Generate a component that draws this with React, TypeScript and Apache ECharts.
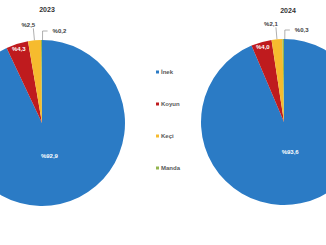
import React, { useEffect, useRef } from "react";
import * as echarts from "echarts";

const categories = ["İnek", "Koyun", "Keçi", "Manda"];
const values2023 = [92.9, 4.3, 2.5, 0.2];
const values2024 = [93.6, 4.0, 2.1, 0.3];
const years = ["2023", "2024"];
const colors = ["#2B7BC5", "#BF1B1E", "#F6BB2E", "#93B54F"];

const FONT = "Liberation Sans, Arial, sans-serif";
const fmt = (v: number) => "%" + v.toFixed(1).replace(".", ",");

function yearSeries(values: number[], center: [number, number], innerR: number): any[] {
  const R = 83;
  const base = {
    type: "pie",
    center,
    startAngle: 90,
    clockwise: true,
    avoidLabelOverlap: false,
    animation: false,
  };
  const labelOnly = (idx: number) =>
    values.map((v, i) => ({
      name: categories[i],
      value: v,
      itemStyle: { color: "rgba(0,0,0,0)" },
      label: { show: i === idx },
    }));
  const outsideLabel = {
    position: "outside",
    formatter: (p: any) => fmt(p.value),
    fontSize: 6,
    fontWeight: "bold",
    color: "#404040",
    fontFamily: FONT,
  };
  const insideLabel = {
    position: "inside",
    formatter: (p: any) => fmt(p.value),
    fontSize: 6,
    fontWeight: "bold",
    color: "#ffffff",
    fontFamily: FONT,
  };
  return [
    {
      ...base,
      radius: [0, R],
      itemStyle: { borderWidth: 0 },
      data: values.map((v, i) => ({
        name: categories[i],
        value: v,
        itemStyle: { color: colors[i] },
        label: { show: i === 2 },
        labelLine: { show: i === 2 },
      })),
      label: outsideLabel,
      labelLine: { length: 12, length2: 0, lineStyle: { color: "#8c8c8c", width: 0.7 } },
      labelLayout: { align: "center", verticalAlign: "bottom" },
    },
    {
      ...base,
      radius: [0, innerR],
      silent: true,
      data: labelOnly(0),
      label: insideLabel,
      labelLine: { show: false },
    },
    {
      ...base,
      radius: [66, R],
      silent: true,
      data: labelOnly(1),
      label: insideLabel,
      labelLine: { show: false },
    },
    {
      ...base,
      radius: [0, R],
      silent: true,
      data: [
        {
          name: categories[3],
          value: values[3],
          itemStyle: { color: "rgba(0,0,0,0)" },
          label: { show: true },
          labelLine: { show: true },
        },
        {
          name: "rest",
          value: values[0] + values[1] + values[2],
          itemStyle: { color: "rgba(0,0,0,0)" },
          label: { show: false },
          labelLine: { show: false },
        },
      ],
      label: outsideLabel,
      labelLine: { length: 9, length2: 5, lineStyle: { color: "#8c8c8c", width: 0.7 } },
    },
  ];
}

export default function App() {
  const ref = useRef<HTMLDivElement>(null);
  useEffect(() => {
    document.body.style.margin = "0";
    if (!ref.current) return;
    const chart = echarts.init(ref.current, undefined, { renderer: "svg" });
    const titleStyle = { fontSize: 7, fontWeight: "bold", color: "#333333", fontFamily: FONT };
    chart.setOption({
      animation: false,
      backgroundColor: "#ffffff",
      title: [
        { text: years[0], left: 42, top: 1, textAlign: "center", textStyle: titleStyle },
        { text: years[1], left: 283, top: 2, textAlign: "center", textStyle: titleStyle },
      ],
      legend: {
        data: categories,
        orient: "vertical",
        left: 151,
        top: 63,
        icon: "rect",
        itemWidth: 3,
        itemHeight: 3,
        itemGap: 24,
        textStyle: {
          fontSize: 6,
          fontWeight: "bold",
          lineHeight: 8,
          color: "#595959",
          padding: [0, 0, 0, -3],
          fontFamily: FONT,
        },
      },
      series: [
        ...yearSeries(values2023, [42, 123], 62),
        ...yearSeries(values2024, [284, 122], 56),
      ],
    });
    return () => chart.dispose();
  }, []);
  return <div ref={ref} style={{ width: 326, height: 245 }} />;
}
